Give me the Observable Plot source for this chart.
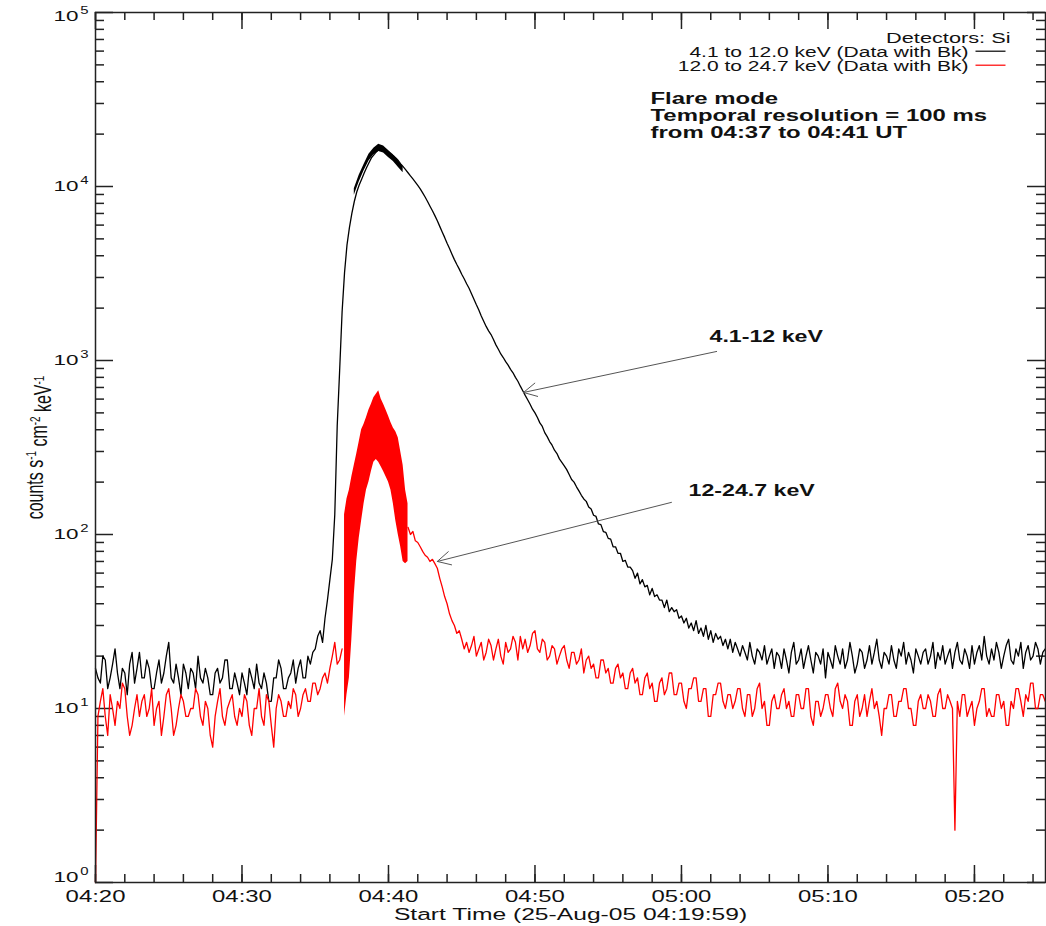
<!DOCTYPE html>
<html>
<head>
<meta charset="utf-8">
<script src="https://cdn.jsdelivr.net/npm/d3@7"></script>
<script src="https://cdn.jsdelivr.net/npm/@observablehq/plot@0.6"></script>
<style>
  html, body { margin: 0; padding: 0; background: #fff; }
</style>
</head>
<body>
<div id="chart"></div>
<script>
// Si detector light curves, 25 Aug 2005. Regular samples every 10 s from 04:20:00 UT.
const day = [2005, 7, 25];
const sampleStart = "04:20:00";
const sampleStep = 10; // seconds

// 4.1–12.0 keV (counts s^-1 cm^-2 keV^-1), one row = 200 s
const softCounts = [
  17, 15, 14, 20, 19, 13, 15, 18, 22, 16, 13, 17, 16, 12, 18, 21, 14, 17, 21, 15,
  15, 19, 17, 13, 13, 16, 19, 14, 16, 20, 24, 15, 14, 18, 15, 12, 18, 16, 13, 17,
  16, 13, 20, 15, 14, 17, 15, 12, 12, 16, 17, 14, 15, 19, 19, 13, 13, 16, 14, 12,
  16, 14, 12, 17, 15, 13, 18, 14, 13, 16, 14, 11, 11, 15, 15, 19, 17, 13, 13, 15,
  16, 19, 14, 17, 19, 15, 15, 20, 18, 21, 22, 26, 28, 24, 33, 42, 55, 72, 130, 420,
  880, 1900, 3200, 4600, 5800, 7000, 8200, 9300, 10200, 11000, 11900, 12800, 13700, 14600, 15200, 15800, 16300, 16600, 16700, 16300,
  15800, 15300, 15000, 14600, 14100, 13500, 13000, 12500, 12000, 11500, 11050, 10600, 10150, 9700, 9200, 8700, 8200, 7700, 7250, 6800,
  6350, 5900, 5480, 5100, 4720, 4400, 4080, 3800, 3560, 3350, 3130, 2950, 2760, 2600, 2420, 2250, 2090, 1950, 1800, 1680,
  1570, 1480, 1410, 1320, 1230, 1160, 1090, 1040, 985, 940, 890, 850, 800, 760, 712, 670, 630, 595, 560, 525,
  500, 470, 438, 418, 385, 365, 342, 326, 305, 292, 272, 260, 248, 236, 221, 207, 200, 188, 178, 168,
  160, 155, 144, 140, 129, 127, 115, 114, 104, 103, 95, 94, 85, 85, 78, 78, 70, 71, 65, 65,
  62, 56, 60, 52, 55, 50, 51, 45, 49, 44, 45, 42, 42, 38, 42, 36, 38, 36, 37, 33,
  34, 31, 33, 29, 31, 28, 32, 27, 29, 26, 30, 25, 28, 24, 27, 25, 26, 23, 25, 22,
  25, 21, 24, 22, 20, 23, 21, 19, 24, 20, 18, 22, 21, 19, 23, 18, 20, 22, 17, 21,
  20, 17, 22, 19, 16, 21, 24, 18, 19, 22, 17, 20, 23, 19, 16, 21, 20, 18, 22, 15,
  21, 19, 17, 23, 20, 18, 22, 17, 19, 24, 20, 16, 18, 22, 21, 17, 19, 23, 18, 21,
  25, 19, 17, 21, 20, 18, 23, 19, 17, 22, 20, 24, 18, 21, 19, 16, 22, 20, 18, 21,
  22, 18, 20, 24, 17, 21, 19, 23, 18, 20, 22, 17, 21, 24, 19, 18, 22, 20, 17, 23,
  18, 21, 23, 19, 26, 20, 18, 22, 19, 24, 21, 17, 20, 23, 25, 19, 18, 22, 20, 24,
  17, 21, 23, 19, 20, 24, 22, 18, 21, 22
];

// 12.0–24.7 keV; null while the detector runs in flare mode (04:37:00–04:41:10)
const hardCounts = [
  1, 9, 11, 13, 9, 7, 12, 10, 8, 11, 10, 14, 13, 9, 7, 8, 10, 12, 9, 11,
  12, 9, 10, 13, 8, 10, 11, 7, 9, 12, 13, 10, 7, 8, 10, 12, 11, 9, 9, 10,
  10, 13, 12, 9, 8, 11, 10, 7, 6, 9, 11, 13, 9, 8, 10, 11, 12, 9, 8, 10,
  9, 12, 11, 8, 7, 10, 10, 13, 9, 8, 12, 11, 8, 6, 10, 12, 11, 9, 9, 11,
  10, 13, 12, 9, 10, 12, 13, 11, 11, 14, 14, 12, 13, 15, 16, 14, 17, 20, 24, 18,
  19, 22, null, null, null, null, null, null, null, null, null, null, null, null, null, null, null, null, null, null,
  null, null, null, null, null, null, null, null, 110, 100, 104, 92, 90, 85, 80, 76, 74, 70, 72, 68,
  64, 56, 50, 44, 40, 35, 32, 30, 27, 28, 25, 22, 24, 21, 23, 26, 20, 22, 24, 19,
  21, 25, 23, 19, 22, 25, 20, 18, 24, 21, 22, 26, 24, 19, 26, 22, 25, 21, 23, 27,
  28, 22, 21, 25, 24, 19, 20, 23, 22, 18, 20, 22, 23, 19, 17, 21, 21, 18, 19, 22,
  16, 19, 20, 17, 18, 15, 15, 19, 19, 16, 17, 14, 14, 17, 18, 15, 16, 13, 13, 16,
  17, 14, 15, 12, 12, 15, 16, 13, 14, 11, 11, 14, 15, 12, 13, 16, 16, 12, 12, 14,
  14, 11, 10, 13, 13, 15, 15, 11, 11, 13, 13, 9, 9, 12, 12, 14, 14, 11, 10, 12,
  12, 10, 11, 13, 13, 10, 9, 12, 12, 9, 10, 13, 14, 10, 11, 8, 8, 11, 12, 10,
  10, 12, 13, 10, 11, 9, 9, 12, 12, 10, 10, 13, 13, 9, 8, 11, 11, 9, 10, 12,
  12, 10, 9, 13, 14, 11, 10, 12, 11, 8, 8, 11, 12, 9, 10, 12, 9, 11, 13, 10,
  11, 9, 7, 10, 10, 12, 12, 9, 9, 11, 11, 13, 13, 10, 10, 8, 8, 11, 12, 10,
  10, 12, 11, 9, 9, 12, 13, 10, 10, 12, 11, 10, 2, 11, 9, 12, 12, 9, 10, 11,
  8, 10, 11, 13, 13, 9, 10, 9, 9, 12, 12, 10, 11, 8, 8, 11, 10, 13, 13, 11,
  9, 12, 11, 14, 14, 10, 10, 12, 12, 11
];

// Flare mode (100 ms resolution): spread of the 100 ms samples
const softFlareTimes = ["04:37:40", "04:38:00", "04:38:20", "04:38:40", "04:39:00",
  "04:39:20", "04:39:40", "04:40:00", "04:40:20", "04:40:40", "04:41:00"];
const softFlareMin = [8900, 10600, 12300, 14000, 15200, 15900, 15600, 14700, 13900, 12900, 12000];
const softFlareMax = [9700, 11600, 13400, 15300, 16600, 17500, 17100, 16100, 15200, 14100, 13000];

const hardFlareTimes = ["04:37:00", "04:37:10", "04:37:20", "04:37:30", "04:37:40", "04:37:50",
  "04:38:00", "04:38:10", "04:38:20", "04:38:30", "04:38:40", "04:38:50",
  "04:39:00", "04:39:10", "04:39:20", "04:39:30", "04:39:40", "04:39:50",
  "04:40:00", "04:40:10", "04:40:20", "04:40:30", "04:40:40", "04:40:50",
  "04:41:00", "04:41:10", "04:41:20"];
const hardFlareMin = [9, 12, 15, 25, 45, 70, 95, 120, 150, 180, 200, 230, 260, 270, 260, 245, 230, 215,
  200, 180, 150, 120, 100, 85, 70, 68, 70];
const hardFlareMax = [130, 160, 180, 215, 250, 290, 340, 400, 430, 470, 520, 560, 610, 640, 670, 600, 560, 520,
  480, 440, 410, 390, 360, 300, 250, 180, 150];

// Axis
const xTickLabels = ["04:20", "04:30", "04:40", "04:50", "05:00", "05:10", "05:20"];
const xDomain = ["04:20:00", "05:24:51"];
const yExponents = [0, 1, 2, 3, 4, 5];

// Text
const xTitle = "Start Time (25-Aug-05 04:19:59)";
const yTitle = "counts s^-1 cm^-2 keV^-1";
const legendHeader = "Detectors: Si";
const legendLabels = ["4.1 to 12.0 keV (Data with Bk)", "12.0 to 24.7 keV (Data with Bk)"];
const legendColors = ["#000", "#f00"];
const modeNote = "Flare mode\nTemporal resolution = 100 ms\nfrom 04:37 to 04:41 UT";
const callouts = [
  {label: "4.1-12 keV", at: ["05:01:55", 1269], from: ["05:02:24", 1127], to: ["04:49:13", 655]},
  {label: "12-24.7 keV", at: ["05:00:29", 167.5], from: ["04:59:19", 153], to: ["04:43:20", 70]}
];

const clock = (s) => {
  const [h, m, sec = 0] = s.split(":").map(Number);
  return new Date(Date.UTC(day[0], day[1], day[2], h, m, sec));
};
const t0 = clock(sampleStart).getTime();
const series = (values) => values.map((v, i) => ({
  time: new Date(t0 + i * sampleStep * 1000),
  value: v == null ? NaN : v
}));
const softRows = series(softCounts);
const hardRows = series(hardCounts);
const softFlare = softFlareTimes.map((s, i) => ({time: clock(s), lo: softFlareMin[i], hi: softFlareMax[i]}));
const hardFlare = hardFlareTimes.map((s, i) => ({time: clock(s), lo: hardFlareMin[i], hi: hardFlareMax[i]}));

const x0 = clock(xDomain[0]), x1 = clock(xDomain[1]);
const xMajor = xTickLabels.map(clock);
const xMinor = d3.utcMinute.every(2).range(x0, x1);
const yMajor = yExponents.map((e) => 10 ** e);
const yMinor = d3.range(0, 5).flatMap((e) => d3.range(2, 10).map((k) => k * 10 ** e));

const W = 1046, H = 926;
const mL = 95, mR = 1, mT = 12, mB = 44;
const innerW = W - mL - mR, innerH = H - mT - mB;
const axisColor = "#222";
const ink = "#111";
const fontFamily = "'Liberation Sans', Arial, Helvetica, sans-serif";

const tickMark = (data, opts) => Plot.tickX(data, {x: (d) => d, stroke: axisColor, strokeWidth: 1.5, ...opts});
const tickMarkY = (data, opts) => Plot.tickY(data, {y: (d) => d, stroke: axisColor, strokeWidth: 1.5, ...opts});

// decade labels "10" with a raised exponent; the end labels sit a little inside the frame
const decadeLabels = yExponents.flatMap((e) => {
  const shift = e === yExponents[yExponents.length - 1] ? 4 : e === yExponents[0] ? -5 : 0;
  return [
    Plot.text([e], {y: (d) => 10 ** d, frameAnchor: "left", dx: -17, dy: shift, textAnchor: "end",
      lineAnchor: "middle", text: () => "10", fontSize: 15.5, fill: ink}),
    Plot.text([e], {y: (d) => 10 ** d, frameAnchor: "left", dx: -7, dy: shift - 5.5, textAnchor: "end",
      lineAnchor: "middle", text: (d) => String(d), fontSize: 10.3, fill: ink})
  ];
});

const chart = Plot.plot({
  width: W,
  height: H,
  marginLeft: mL,
  marginRight: mR,
  marginTop: mT,
  marginBottom: mB,
  style: {background: "#fff", fontFamily, color: ink},
  x: {type: "utc", domain: [x0, x1], axis: null},
  y: {type: "log", domain: [1, 1e5], axis: null},
  marks: [
    // inward ticks on all four sides
    tickMark(xMinor, {insetTop: innerH - 8}),
    tickMark(xMajor, {insetTop: innerH - 17}),
    tickMark(xMinor, {insetBottom: innerH - 8}),
    tickMark(xMajor, {insetBottom: innerH - 17}),
    tickMarkY(yMinor, {insetRight: innerW - 9}),
    tickMarkY(yMajor, {insetRight: innerW - 18}),
    tickMarkY(yMinor, {insetLeft: innerW - 9}),
    tickMarkY(yMajor, {insetLeft: innerW - 18}),

    // 4.1–12 keV
    Plot.areaY(softFlare, {x: "time", y1: "lo", y2: "hi", fill: legendColors[0]}),
    Plot.line(softRows, {x: "time", y: "value", stroke: legendColors[0], strokeWidth: 1.3}),
    // 12–24.7 keV
    Plot.areaY(hardFlare, {x: "time", y1: "lo", y2: "hi", fill: legendColors[1]}),
    Plot.line(hardRows, {x: "time", y: "value", stroke: legendColors[1], strokeWidth: 1.3}),

    Plot.frame({stroke: axisColor, strokeWidth: 1.5}),

    // tick labels
    Plot.text(xTickLabels, {x: clock, frameAnchor: "bottom", dy: 19.5, lineAnchor: "bottom",
      text: (d) => d, fontSize: 16.5, fill: ink}),
    ...decadeLabels,

    // axis titles
    Plot.text([xTitle], {frameAnchor: "bottom", dy: 37, textAnchor: "middle", lineAnchor: "bottom",
      text: (d) => d, fontSize: 17, fill: ink}),
    Plot.text([yTitle], {frameAnchor: "left", dx: -60, rotate: -90, textAnchor: "middle", lineAnchor: "middle",
      text: (d) => d, fontSize: 16, fill: ink}),

    // legend
    Plot.text([legendHeader], {frameAnchor: "top-right", dx: -35, dy: 30, textAnchor: "end", lineAnchor: "bottom",
      text: (d) => d, fontSize: 15, fill: ink}),
    Plot.text([legendLabels[0]], {frameAnchor: "top-right", dx: -77, dy: 44, textAnchor: "end", lineAnchor: "bottom",
      text: (d) => d, fontSize: 14.5, fill: ink}),
    Plot.text([legendLabels[1]], {frameAnchor: "top-right", dx: -77, dy: 58, textAnchor: "end", lineAnchor: "bottom",
      text: (d) => d, fontSize: 14.5, fill: ink}),

    Plot.text([modeNote], {frameAnchor: "top-left", dx: 555, dy: 79.5, textAnchor: "start", lineAnchor: "top",
      lineHeight: 1.03, text: (d) => d, fontSize: 16.5, fontWeight: "bold", fill: ink}),

    // callouts
    Plot.arrow(callouts, {
      x1: (d) => clock(d.from[0]), y1: (d) => d.from[1],
      x2: (d) => clock(d.to[0]), y2: (d) => d.to[1],
      stroke: "#555", strokeWidth: 1, headLength: 22, headAngle: 55
    }),
    Plot.text(callouts, {x: (d) => clock(d.at[0]), y: (d) => d.at[1], textAnchor: "start", lineAnchor: "bottom",
      text: "label", fontSize: 16, fontWeight: "bold", fill: ink})
  ]
});

document.getElementById("chart").appendChild(chart);

const svg = d3.select(chart);

// superscripts in the y title
svg.selectAll("text").filter(function () { return this.textContent === yTitle; }).each(function () {
  const el = d3.select(this);
  el.text(null);
  const parts = [["counts s", false], ["-1", true], [" cm", false], ["-2", true], [" keV", false], ["-1", true]];
  let raised = false;
  for (const [s, sup] of parts) {
    const ts = el.append("tspan").text(s);
    if (sup && !raised) ts.attr("dy", "-0.45em");
    if (!sup && raised) ts.attr("dy", "0.45em");
    if (sup) ts.attr("font-size", "62%");
    raised = sup;
  }
});

// the lettering is set wide: stretch every label horizontally about its anchor
const stretchX = 1.45;
svg.selectAll("text").each(function () {
  const x = +this.getAttribute("x") || 0;
  this.removeAttribute("x");
  let t = this.getAttribute("transform") || "";
  const scale = ` translate(${x},0) scale(${stretchX},1) `;
  const r = t.indexOf("rotate");
  t = r >= 0 ? t.slice(0, r) + scale + t.slice(r) : t + scale;
  this.setAttribute("transform", t.trim());
});

// legend swatches after the legend entries
const box = chart.getBoundingClientRect();
legendLabels.forEach((label, i) => {
  svg.selectAll("text").filter(function () { return this.textContent === label; }).each(function () {
    const r = this.getBoundingClientRect();
    const y = r.top + r.height * 0.47 - box.top;
    const xa = r.right - box.left + 7;
    svg.append("line")
      .attr("x1", xa).attr("x2", xa + 30)
      .attr("y1", y).attr("y2", y)
      .attr("stroke", legendColors[i]).attr("stroke-width", 1.2);
  });
});
</script>
</body>
</html>
